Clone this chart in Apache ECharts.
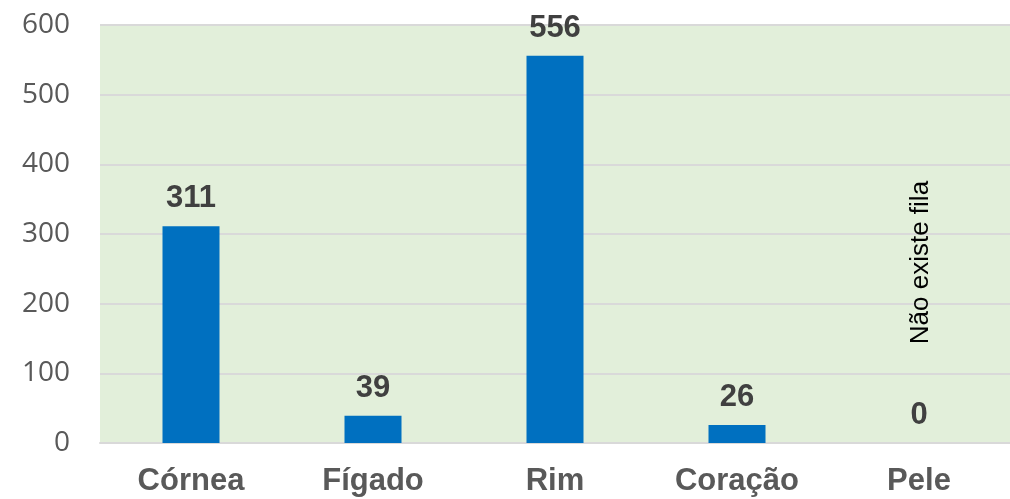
<!DOCTYPE html>
<html>
<head>
<meta charset="utf-8">
<script src="https://cdn.jsdelivr.net/npm/echarts@6/dist/echarts.min.js"></script>
<style>
  html, body { margin: 0; padding: 0; background: #ffffff; }
  #chart { width: 1010px; height: 499px; }
</style>
</head>
<body>
<div id="chart"></div>
<script>
// dados
const categories = ['Córnea', 'Fígado', 'Rim', 'Coração', 'Pele']
const values = [311, 39, 556, 26, 0]
const yTicks = [0, 100, 200, 300, 400, 500, 600]
const noteText = 'Não existe fila'

const chart = echarts.init(document.getElementById('chart'))

chart.setOption({
  animation: false,
  backgroundColor: '#ffffff',
  grid: {
    left: 100,
    right: 0,
    top: 25,
    bottom: 56,
    show: true,
    backgroundColor: '#E2EFDA',
    borderWidth: 0,
  },
  xAxis: {
    type: 'category',
    data: categories,
    axisTick: { show: false },
    axisLine: { show: true, lineStyle: { color: '#D9D9D9', width: 2 } },
    axisLabel: {
      color: '#595959',
      fontFamily: 'Liberation Sans, Arial',
      fontWeight: 'bold',
      fontSize: 31,
      margin: 23,
    },
  },
  yAxis: {
    type: 'value',
    min: yTicks[0],
    max: yTicks[yTicks.length - 1],
    interval: 100,
    axisLine: { show: false },
    axisTick: { show: false },
    splitLine: { lineStyle: { color: '#D9D9D9', width: 2 } },
    axisLabel: {
      color: '#595959',
      fontFamily: 'Open Sans, sans-serif',
      fontSize: 28,
      margin: 30,
    },
  },
  series: [
    {
      type: 'bar',
      data: values,
      barWidth: 57,
      itemStyle: { color: '#0070C0' },
      label: {
        show: true,
        position: 'top',
        distance: 12,
        color: '#404040',
        fontFamily: 'Liberation Sans, Arial',
        fontWeight: 'bold',
        fontSize: 31,
      },
    },
  ],
})

// nota rotacionada sobre "Pele"
const notePos = chart.convertToPixel({ seriesIndex: 0 }, [categories.length - 1, 259])
chart.setOption({
  graphic: [
    {
      type: 'text',
      x: notePos[0] + 2,
      y: notePos[1],
      rotation: Math.PI / 2,
      style: {
        text: noteText,
        fill: '#000000',
        font: '26px "Liberation Sans", Arial',
        align: 'center',
        verticalAlign: 'middle',
      },
    },
  ],
})
</script>
</body>
</html>
